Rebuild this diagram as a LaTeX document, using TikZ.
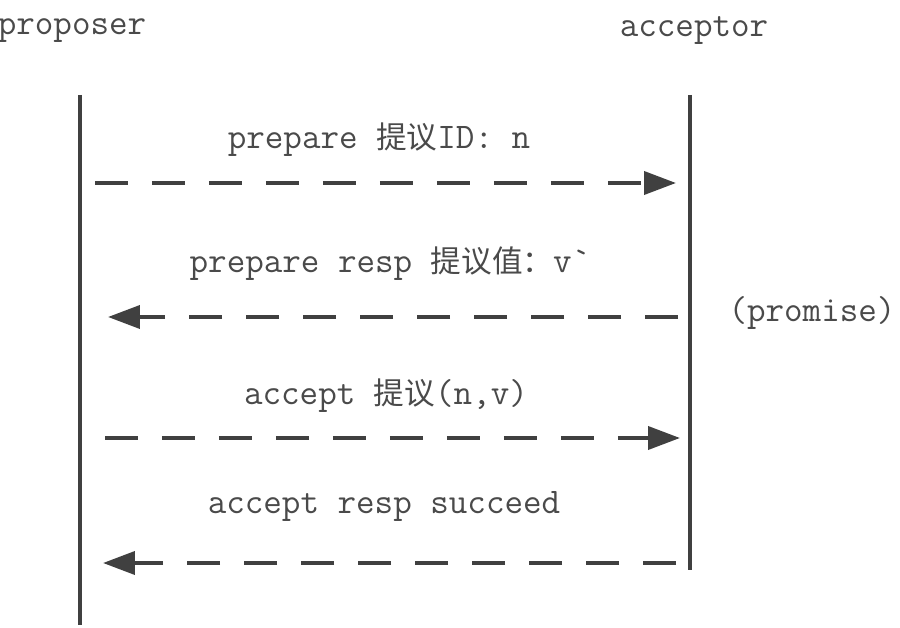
\documentclass[tikz,border=0pt]{standalone}
\usepackage{fontspec}
\newfontfamily\cjk[Scale=0.85]{Noto Sans CJK SC}
\usetikzlibrary{arrows.meta}

\definecolor{msgtext}{HTML}{4A4A4A}
\definecolor{msgline}{HTML}{404040}

\tikzset{
    lbl/.style={text=msgtext, font=\ttfamily\fontsize{20.5}{24}\selectfont, inner sep=0pt},
    lifeline/.style={draw=msgline, line width=1.8pt},
    msg/.style={draw=msgline, line width=2.2pt, dash pattern=on 0.66cm off 0.48cm,
        -{Triangle[length=0.64cm, width=0.46cm]}}
}

\begin{document}
\begin{tikzpicture}[x=0.02cm, y=-0.02cm]
            \useasboundingbox (0, 0) rectangle (900, 628);

            % actors
            \node[lbl] (proposer) at (72, 31) {proposer};
            \node[lbl] (acceptor) at (694, 31) {acceptor};

            % lifelines
            \coordinate (ptop) at (80, 95);
            \coordinate (pbot) at (80, 625);
            \coordinate (atop) at (690, 95);
            \coordinate (abot) at (690, 570);
            \draw[lifeline] (ptop) -- (pbot);
            \draw[lifeline] (atop) -- (abot);

            % message end points
            \coordinate (p1) at (95, 183);
            \coordinate (a1) at (676, 183);
            \coordinate (a2) at (678, 317);
            \coordinate (p2) at (108, 317);
            \coordinate (p3) at (105, 438);
            \coordinate (a3) at (680, 438);
            \coordinate (a4) at (676, 563);
            \coordinate (p4) at (103, 563);

            % messages
            \node[lbl] (prep) at (379, 140) {prepare {\cjk 提议}ID: n};
            \draw[msg] (p1) -- (a1);

            \node[lbl] (prepresp) at (390, 264) {prepare resp {\cjk 提议值：}v`};
            \draw[msg] (a2) -- (p2);
            \node[lbl] (promise) at (812, 313) {(promise)};

            \node[lbl] (acc) at (386, 396) {accept {\cjk 提议}(n,v)};
            \draw[msg] (p3) -- (a3);

            \node[lbl] (accresp) at (384, 506) {accept resp succeed};
            \draw[msg] (a4) -- (p4);

        \end{tikzpicture}
\end{document}
